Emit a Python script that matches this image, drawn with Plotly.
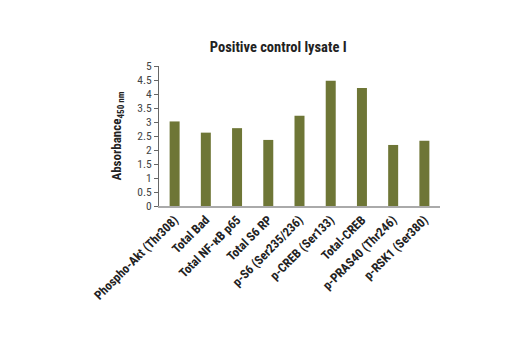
import plotly.graph_objects as go

categories = ["Phospho-Akt (Thr308)", "Total Bad", "Total NF-κB p65", "Total S6 RP",
              "p-S6 (Ser235/236)", "p-CREB (Ser133)", "Total-CREB",
              "p-PRAS40 (Thr246)", "p-RSK1 (Ser380)"]
values = [3.02, 2.62, 2.78, 2.36, 3.22, 4.47, 4.21, 2.18, 2.33]
y_ticks = [0, 0.5, 1, 1.5, 2, 2.5, 3, 3.5, 4, 4.5, 5]
y_tick_text = ["0", "0.5", "1", "1.5", "2", "2.5", "3", "3.5", "4", "4.5", "5"]

font_narrow = "Liberation Sans Narrow, Roboto Condensed, Arial Narrow, Liberation Sans, sans-serif"

fig = go.Figure(go.Bar(
    x=categories, y=values, marker_color="#6e7636", marker_line_width=0, width=0.32,
))

fig.update_layout(
    width=520, height=350,
    margin=dict(l=159, r=80, t=66, b=144),
    paper_bgcolor="white", plot_bgcolor="white",
    showlegend=False,
    title=dict(text="<b>Positive control lysate I</b>", x=0.535, xanchor="center",
               y=0.865, yanchor="middle",
               font=dict(family=font_narrow, size=14.5, color="#222")),
    xaxis=dict(
        tickangle=-45, showline=True, linecolor="#aaaaaa", linewidth=1.5,
        ticks="", showgrid=False,
        tickfont=dict(family=font_narrow, size=12.5, color="#222"),
        tickprefix="<b>", ticksuffix="</b>",
    ),
    yaxis=dict(
        range=[0, 5], tickvals=y_ticks, ticktext=y_tick_text,
        showline=True, linecolor="#666", linewidth=1, ticks="outside", ticklen=4,
        tickcolor="#666", showgrid=False, zeroline=False,
        tickfont=dict(family=font_narrow, size=11.5, color="#444"),
        title=dict(text="<b>Absorbance<sub>450 nm</sub></b>", standoff=12,
                   font=dict(family=font_narrow, size=13, color="#222")),
    ),
)

fig.write_html("out.html")
